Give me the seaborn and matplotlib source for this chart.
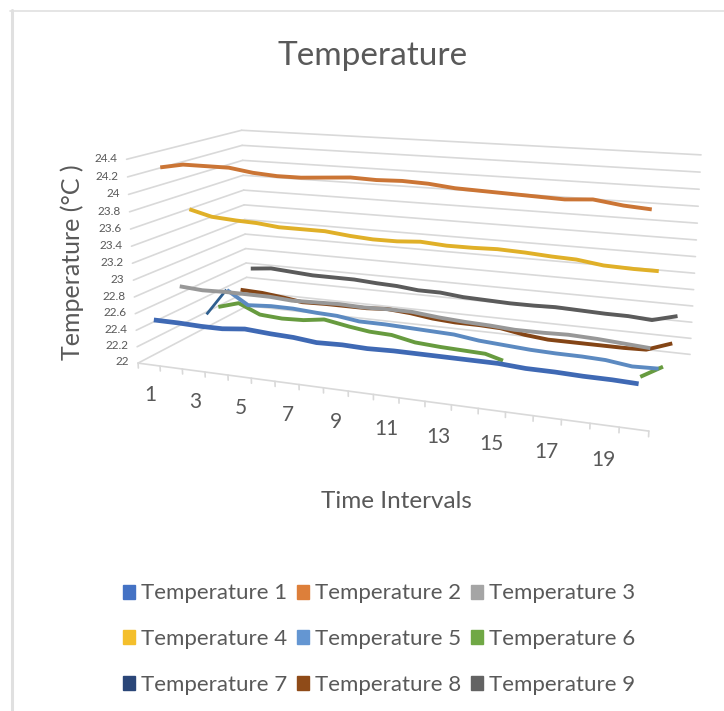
import numpy as np
import matplotlib
matplotlib.use("Agg")
import matplotlib.pyplot as plt
from matplotlib.lines import Line2D
from matplotlib.patches import Patch
from mpl_toolkits.mplot3d import proj3d
import seaborn as sns

# Values, one list per series
time_ticks = list(range(1, 21, 2))
temp_ticks = [22, 22.2, 22.4, 22.6, 22.8, 23, 23.2, 23.4, 23.6, 23.8, 24, 24.2, 24.4]
series_names = [f"Temperature {i}" for i in range(1, 10)]

temp1 = [22.50, 22.50, 22.49, 22.49, 22.52, 22.50, 22.49, 22.46, 22.47, 22.46,
         22.47, 22.47, 22.47, 22.47, 22.47, 22.45, 22.45, 22.44, 22.44, 22.43]
temp2 = [24.25, 24.30, 24.30, 24.30, 24.26, 24.24, 24.24, 24.26, 24.28, 24.27,
         24.28, 24.27, 24.24, 24.23, 24.22, 24.21, 24.20, 24.22, 24.18, 24.16]
temp3 = [22.76, 22.74, 22.75, 22.75, 22.75, 22.73, 22.74, 22.75, 22.74, 22.75,
         22.75, 22.72, 22.70, 22.69, 22.67, 22.67, 22.68, 22.67, 22.65, 22.63]
temp4 = [23.65, 23.58, 23.56, 23.55, 23.52, 23.52, 23.52, 23.49, 23.47, 23.47,
         23.49, 23.47, 23.47, 23.48, 23.47, 23.45, 23.44, 23.40, 23.39, 23.39]
temp5 = [22.25, 22.60, 22.43, 22.45, 22.45, 22.43, 22.42, 22.38, 22.38, 22.37,
         22.36, 22.35, 22.31, 22.29, 22.27, 22.26, 22.26, 22.25, 22.21, 22.22]
temp6 = [22.27, 22.35, 22.23, 22.21, 22.22, 22.26, 22.21, 22.17, 22.16, 22.10,
         22.08, 22.07, 22.06, 21.98, 21.95, 21.93, 21.92, 21.90, 21.97, 22.15]
temp7 = [21.90, 21.90, 21.88, 21.88, 21.86, 21.85, 21.85, 21.84, 21.83, 21.82,
         21.82, 21.81, 21.80, 21.80, 21.79, 21.78, 21.78, 21.77, 21.76, 21.76]
temp8 = [22.35, 22.34, 22.31, 22.27, 22.28, 22.28, 22.28, 22.30, 22.28, 22.24,
         22.22, 22.22, 22.21, 22.16, 22.13, 22.13, 22.13, 22.13, 22.14, 22.25]
temp9 = [22.57, 22.60, 22.58, 22.56, 22.56, 22.56, 22.54, 22.53, 22.50, 22.50,
         22.47, 22.46, 22.45, 22.45, 22.46, 22.45, 22.44, 22.44, 22.42, 22.50]
all_temps = [temp1, temp2, temp3, temp4, temp5, temp6, temp7, temp8, temp9]

colors = ["#4472C4", "#DD7F3A", "#A5A5A5", "#F4BF2C", "#6496D2",
          "#70A845", "#2A4678", "#8F4B18", "#636363"]
text_color = "#595959"
grid_color = "#D9D9D9"

sns.set_theme(style="white")
plt.rcParams["font.family"] = ["Lato", "DejaVu Sans"]
palette = sns.color_palette(colors)

fig = plt.figure(figsize=(7.24, 7.11), dpi=100)
ax = fig.add_subplot(projection="3d", computed_zorder=False)

# Excel style 3D line chart: camera picked to fit the wall corners
ax.set_proj_type("persp", focal_length=0.318)
ax.view_init(elev=13.6, azim=-69)
ax.set_box_aspect((1.342, 0.594, 0.54), zoom=0.82)
ax.set_xlim(0.5, 20.5, view_margin=0)
ax.set_ylim(0, 9, view_margin=0)
ax.set_zlim(22, 24.4, view_margin=0)
ax.set_xticks([])
ax.set_yticks([])
ax.set_zticks([])
ax.set_axis_off()
ax.set_position([(417 - 365) / 724, 1 - (279 + 346) / 711, 711 / 724, 1.0])


# Tick labels go through the projection by hand so they stay plain 2D text
def label_at(x, y, z, text, **kwargs):
    px, py, _ = proj3d.proj_transform(x, y, z, ax.get_proj())
    ax.text2D(px, py, text, transform=ax.transData, color=text_color, va="center", **kwargs)


# walls
for v in temp_ticks:
    ax.plot([0.5, 0.5], [0, 9], [v, v], color=grid_color, lw=1.2, zorder=1)
    ax.plot([0.5, 20.5], [9, 9], [v, v], color=grid_color, lw=1.2, zorder=1)
    label_at(0.1, 0, v, f"{v:g}", fontsize=8.5, ha="right")

# floor edge and ticks
ax.plot([0.5, 20.5], [0, 0], [22, 22], color=grid_color, lw=1.2, zorder=1)
for x in np.arange(0.5, 21):
    ax.plot([x, x], [0, 0], [22, 21.94], color=grid_color, lw=1.2, zorder=1)
for t in time_ticks:
    label_at(t, 0, 21.62, str(t), fontsize=15, ha="center")

# back series first, values under the axis floor get cut off
steps = np.arange(1, 21)
fine = np.linspace(1, 20, 800)
for i, temps in enumerate(all_temps):
    depth = i + 0.5
    z = np.interp(fine, steps, temps)
    z[z < 22] = np.nan
    width = 3.4 if i == 0 else 2.8
    # ribbons are a bit darker than their legend swatch
    shade = np.array(palette[i]) * 0.92
    if i == 4:
        # first segment of this ribbon shows its dark underside
        ax.plot(fine[fine <= 2], np.full((fine <= 2).sum(), depth), z[fine <= 2],
                color="#2F5F8F", lw=2, zorder=20 - i, solid_capstyle="butt")
        z[fine < 2] = np.nan
    ax.plot(fine, np.full(fine.shape, depth), z, color=shade, lw=width,
            zorder=20 - i, solid_capstyle="butt")

fig.text(373 / 724, 1 - 56 / 711, "Temperature", fontsize=24, color=text_color, ha="center", va="center")
fig.text(396 / 724, 1 - 502 / 711, "Time Intervals", fontsize=17.5, color=text_color, ha="center", va="center")
fig.text(72 / 724, 1 - 262 / 711, "Temperature (°C )", fontsize=18, color=text_color,
         ha="center", va="center", rotation=90)

# legend fills by column, picture reads by row
order = [0, 3, 6, 1, 4, 7, 2, 5, 8]
handles = [Patch(color=palette[i], label=series_names[i]) for i in order]
fig.legend(handles=handles, ncols=3, loc="center", bbox_to_anchor=(379 / 724, 1 - 639 / 711),
           frameon=False, fontsize=16, labelcolor=text_color, handlelength=0.55, handleheight=0.6,
           handletextpad=0.25, columnspacing=0.46, labelspacing=1.15)

# edges of the screenshot, only top and left show
fig.add_artist(Line2D([11.5 / 724, 11.5 / 724], [0, 1 - 10 / 711], color="#E0E0E0", lw=2.2))
fig.add_artist(Line2D([10 / 724, 1], [1 - 11 / 711, 1 - 11 / 711], color="#E0E0E0", lw=1.2))

fig.savefig("out.png", dpi=100)
